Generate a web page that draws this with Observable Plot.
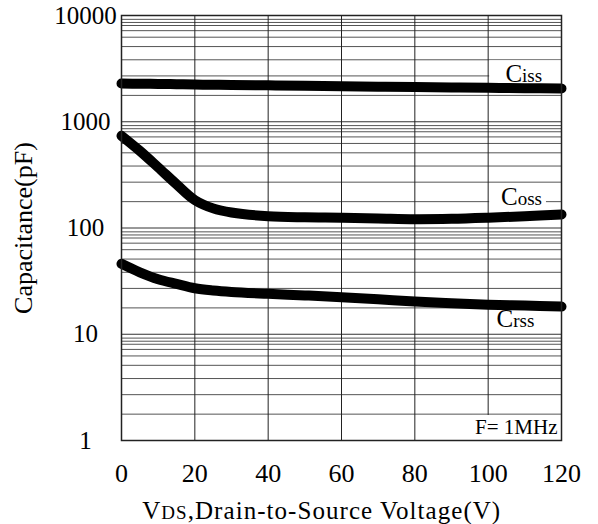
<!DOCTYPE html>
<html><head><meta charset="utf-8">
<script src="https://cdn.jsdelivr.net/npm/d3@7"></script>
<script src="https://cdn.jsdelivr.net/npm/@observablehq/plot@0.6"></script>
<style>body{margin:0;background:#fff;} svg{display:block}</style>
</head><body><div id="chart"></div>
<script>
// Drain-to-source voltage samples (V)
const vds  = [0, 5, 10, 15, 20, 25, 30, 40, 50, 60, 70, 80, 90, 100, 110, 120];
// Capacitances (pF)
const ciss = [2290, 2280, 2270, 2255, 2240, 2230, 2220, 2200, 2180, 2160, 2140, 2120, 2100, 2085, 2070, 2060];
const coss = [737, 532, 372, 258, 183, 153, 140, 129, 126, 125, 123, 121, 122, 125, 129, 134];
const crss = [46, 38.3, 33, 29.8, 27.1, 25.8, 25, 24, 23.2, 22.3, 21.3, 20.3, 19.6, 19, 18.6, 18.2];

const xTicks = [0, 20, 40, 60, 80, 100, 120];
const yTicks = [1, 10, 100, 1000, 10000];
const minorSteps = [1.77, 2.7, 3.83, 5.1, 6.25, 7.2, 8.05, 8.6, 9.2];

const seriesNames = ["Ciss", "Coss", "Crss"];
const labelX = [104.7, 103.5, 102.3];
const labelY = [2390, 166, 11.8];

const rows = vds.flatMap((x, i) => [
  {series: "Ciss", x, y: ciss[i]},
  {series: "Coss", x, y: coss[i]},
  {series: "Crss", x, y: crss[i]}
]);
const yGrid = yTicks.slice(0, -1).flatMap(d => minorSteps.map(m => d * m));
const boxes = [
  {x1: 100, x2: 120, y1: 2300, y2: 3750},
  {x1: 100, x2: 115.9, y1: 155, y2: 244},
  {x1: 95.2, x2: 120, y1: 1, y2: 1.72}
];

const chart = Plot.plot({
  width: 598, height: 524,
  marginLeft: 121, marginRight: 37, marginTop: 15, marginBottom: 84,
  style: {fontFamily: "'Liberation Serif', 'Times New Roman', serif", background: "#fff", color: "#000"},
  x: {domain: [0, 120]},
  y: {type: "log", domain: [1, 10000]},
  marks: [
    Plot.ruleY(yGrid, {stroke: "#555", strokeWidth: 1}),
    Plot.ruleY(yTicks, {stroke: "#333", strokeWidth: 1}),
    Plot.ruleX(xTicks, {stroke: "#222", strokeWidth: 1}),
    Plot.rect(boxes, {x1: "x1", x2: "x2", y1: "y1", y2: "y2", fill: "#fff", insetLeft: 1.5}),
    Plot.line(rows, {x: "x", y: "y", z: "series", stroke: "#000", strokeWidth: 10,
      strokeLinecap: "round", strokeLinejoin: "round", curve: "catmull-rom"}),
    Plot.text(seriesNames, {x: (d, i) => labelX[i], y: (d, i) => labelY[i], text: d => d,
      textAnchor: "start", lineAnchor: "bottom", fontSize: 25, fill: "#000"}),
    Plot.text(["F= 1MHz"], {frameAnchor: "bottom-right", dx: -4, dy: -7, textAnchor: "end",
      lineAnchor: "bottom", fontSize: 21, fill: "#000"}),
    Plot.frame({stroke: "#222", strokeWidth: 1.5}),
    Plot.axisY({ticks: yTicks, tickSize: 0, tickPadding: 36, textAnchor: "middle",
      tickFormat: d => String(d), fontSize: 25, label: null}),
    Plot.axisX({ticks: xTicks, tickSize: 0, tickPadding: 23, tickFormat: d => String(d),
      fontSize: 26, label: null}),
    Plot.text(["Capacitance(pF)"], {frameAnchor: "left", dx: -90, rotate: -90, textAnchor: "middle",
      lineAnchor: "bottom", fontSize: 26, fill: "#000"}),
    Plot.text(["VDS,Drain-to-Source Voltage(V)"], {frameAnchor: "bottom-left", dx: 20.7, dy: 78.3,
      textAnchor: "start", lineAnchor: "bottom", fontSize: 25, fill: "#000"})
  ]
});

const subs = {
  "Ciss": ["C", "iss"],
  "Coss": ["C", "oss"],
  "Crss": ["C", "rss"],
  "VDS,Drain-to-Source Voltage(V)": ["V", "DS", ",Drain-to-Source Voltage(V)"]
};
d3.select(chart).selectAll("text").each(function() {
  const key = this.textContent;
  const parts = subs[key];
  if (!parts) return;
  const sel = d3.select(this);
  sel.text("");
  parts.forEach((p, j) => {
    const t = sel.append("tspan").text(p);
    if (j % 2 === 1) t.attr("font-size", 19);
  });
  if (key.startsWith("VDS")) sel.attr("textLength", 358).attr("lengthAdjust", "spacing");
});

document.getElementById("chart").append(chart);
</script>
</body></html>
